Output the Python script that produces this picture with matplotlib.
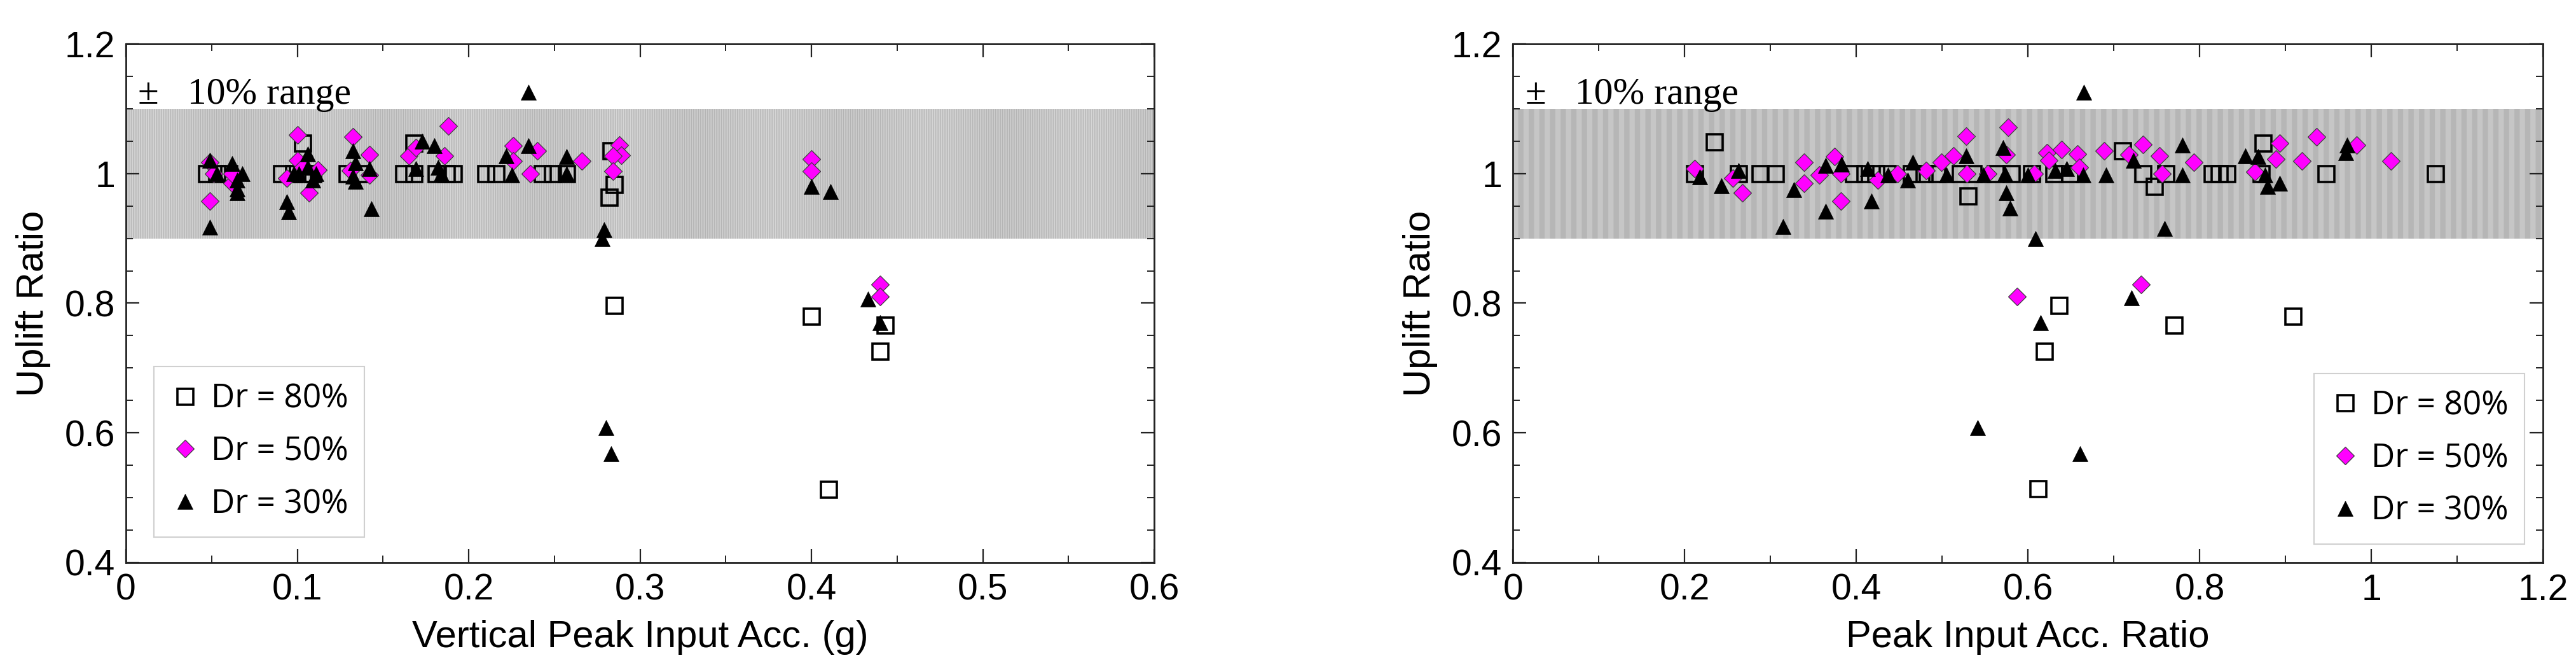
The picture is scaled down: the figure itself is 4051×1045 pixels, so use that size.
import matplotlib
matplotlib.use("Agg")
import matplotlib.pyplot as plt
from matplotlib.ticker import MultipleLocator
from matplotlib.patches import Rectangle

# ---------------- data ----------------
labels = ["Dr = 80%", "Dr = 50%", "Dr = 30%"]

# Left panel: vertical peak input acc. (g)
L80_x = [0.047, 0.053, 0.060, 0.091, 0.098, 0.103, 0.109, 0.103, 0.129, 0.136, 0.162, 0.168, 0.168,
         0.181, 0.187, 0.191, 0.210, 0.216, 0.243, 0.249, 0.257, 0.283, 0.285, 0.282, 0.285, 0.400,
         0.440, 0.443, 0.410]
L80_y = [1.0, 1.0, 1.0, 1.0, 1.0, 1.0, 1.0, 1.047, 1.0, 1.0, 1.0, 1.0, 1.047,
         1.0, 1.0, 1.0, 1.0, 1.0, 1.0, 1.0, 1.0, 1.035, 0.983, 0.963, 0.797, 0.780,
         0.726, 0.766, 0.513]

L50_x = [0.049, 0.049, 0.062, 0.062, 0.051, 0.100, 0.100, 0.094, 0.107, 0.112, 0.103,
         0.1325, 0.142, 0.142, 0.131, 0.165, 0.169, 0.188, 0.186, 0.226, 0.226, 0.236, 0.240,
         0.266, 0.288, 0.289, 0.284, 0.284, 0.400, 0.400, 0.440, 0.440]
L50_y = [1.017, 0.958, 0.985, 1.0, 1.0, 1.060, 1.020, 0.993, 0.970, 1.006, 1.010,
         1.057, 1.029, 0.998, 1.005, 1.027, 1.040, 1.073, 1.027, 1.043, 1.019, 1.0, 1.035,
         1.019, 1.044, 1.028, 1.027, 1.004, 1.022, 1.004, 0.829, 0.810]

L30_x = [0.049, 0.049, 0.062, 0.065, 0.065, 0.065, 0.053, 0.068,
         0.094, 0.095, 0.106, 0.106, 0.109, 0.111, 0.101, 0.098,
         0.1325, 0.134, 0.134, 0.142, 0.143, 0.1325,
         0.173, 0.180, 0.169, 0.182, 0.184,
         0.222, 0.225, 0.235, 0.235, 0.257, 0.257, 0.279, 0.278,
         0.400, 0.411, 0.433, 0.440, 0.280, 0.283]
L30_y = [1.020, 0.917, 1.015, 0.990, 0.976, 0.970, 1.0, 1.0,
         0.957, 0.941, 1.030, 1.010, 0.990, 1.0, 1.0, 1.0,
         1.035, 0.988, 1.016, 1.008, 0.946, 0.996,
         1.050, 1.043, 1.008, 1.010, 1.0,
         1.027, 0.998, 1.043, 1.125, 1.026, 1.0, 0.913, 0.900,
         0.980, 0.972, 0.806, 0.770, 0.608, 0.568]

# Right panel: peak input acc. ratio
R80_x = [0.212, 0.235, 0.263, 0.288, 0.306, 0.397, 0.410, 0.423, 0.436, 0.464, 0.479, 0.494,
         0.521, 0.536, 0.562, 0.581, 0.604, 0.630, 0.649, 0.530, 0.710, 0.734, 0.747, 0.761,
         0.815, 0.823, 0.832, 0.874, 0.872, 0.947, 1.075, 0.636, 0.619, 0.770, 0.909, 0.612]
R80_y = [1.0, 1.049, 1.0, 1.0, 1.0, 1.0, 1.0, 1.0, 1.0, 1.0, 1.0, 1.0,
         1.0, 1.0, 1.0, 1.0, 1.0, 1.0, 1.0, 0.965, 1.035, 1.0, 0.980, 1.0,
         1.0, 1.0, 1.0, 1.047, 1.0, 1.0, 1.0, 0.797, 0.726, 0.766, 0.780, 0.514]

R50_x = [0.212, 0.256, 0.267, 0.339, 0.339, 0.357, 0.375, 0.382, 0.382, 0.425, 0.448, 0.481,
         0.499, 0.513, 0.528, 0.529, 0.553, 0.577, 0.575, 0.607, 0.622, 0.624, 0.639, 0.658,
         0.660, 0.689, 0.718, 0.734, 0.753, 0.756, 0.793, 0.864, 0.889, 0.893, 0.919, 0.936,
         0.983, 1.023, 0.587, 0.732]
R50_y = [1.008, 0.993, 0.970, 1.017, 0.985, 0.998, 1.026, 1.0, 0.958, 0.990, 1.0, 1.005,
         1.017, 1.027, 1.058, 1.0, 1.0, 1.071, 1.029, 1.0, 1.032, 1.020, 1.037, 1.030,
         1.010, 1.035, 1.029, 1.045, 1.027, 1.0, 1.017, 1.003, 1.022, 1.047, 1.019, 1.057,
         1.044, 1.019, 0.810, 0.829]

R30_x = [0.218, 0.243, 0.263, 0.315, 0.327, 0.364, 0.364, 0.383, 0.413, 0.418, 0.437, 0.460,
         0.466, 0.505, 0.528, 0.548, 0.571, 0.575, 0.579, 0.573, 0.600, 0.609, 0.632, 0.645,
         0.664, 0.665, 0.691, 0.723, 0.759, 0.780, 0.780, 0.853, 0.868, 0.876, 0.879, 0.893,
         0.972, 0.970, 0.615, 0.721, 0.5415, 0.661]
R30_y = [0.995, 0.981, 1.005, 0.918, 0.975, 1.012, 0.942, 1.014, 1.008, 0.958, 0.998, 0.990,
         1.017, 0.998, 1.027, 0.998, 1.040, 0.970, 0.947, 1.0, 0.998, 0.900, 1.005, 1.008,
         0.998, 1.125, 0.998, 1.020, 0.915, 1.044, 0.998, 1.027, 1.026, 0.998, 0.980, 0.985,
         1.044, 1.032, 0.770, 0.808, 0.608, 0.568]

band_lo, band_hi = 0.9, 1.1
band_text = "±   10% range"
xlabels = ["Vertical Peak Input Acc. (g)", "Peak Input Acc. Ratio"]
ylabel = "Uplift Ratio"

# ---------------- style ----------------
SANS = ["Liberation Sans", "DejaVu Sans"]
fig = plt.figure(figsize=(40.51, 10.45), dpi=100)
axL = fig.add_axes([0.0489, 0.1541, 0.3992, 0.7799])
axR = fig.add_axes([0.5873, 0.1541, 0.3999, 0.7799])

sq_kw = dict(marker='s', ms=18, mfc='none', mec='black', mew=2.6, ls='none')
di_kw = dict(marker='D', ms=14, mfc='#ff00ff', mec='#404040', mew=0.9, ls='none')
tr_kw = dict(marker='^', ms=17, mfc='black', mec='black', mew=0.5, ls='none')


def fmt(v, p):
    return "%g" % round(v, 3)


def setup(ax, xmax, xmajor, xminor, xlabel, hatch, fc, hc, hlw):
    ax.set_xlim(0, xmax)
    ax.set_ylim(0.4, 1.2)
    band = Rectangle((0, band_lo), xmax, band_hi - band_lo, facecolor=fc,
                     edgecolor=hc, hatch=hatch, linewidth=0, zorder=0)
    if hasattr(band, "set_hatch_linewidth"):
        band.set_hatch_linewidth(hlw)
    ax.add_patch(band)
    ax.xaxis.set_major_locator(MultipleLocator(xmajor))
    ax.xaxis.set_minor_locator(MultipleLocator(xminor))
    ax.yaxis.set_major_locator(MultipleLocator(0.2))
    ax.yaxis.set_minor_locator(MultipleLocator(0.05))
    ax.xaxis.set_major_formatter(plt.FuncFormatter(fmt))
    ax.yaxis.set_major_formatter(plt.FuncFormatter(fmt))
    ax.tick_params(which='both', direction='in', top=True, right=True, color='#222222')
    ax.tick_params(which='major', length=15, width=1.6, pad=12, labelsize=41)
    ax.tick_params(which='minor', length=8, width=1.4)
    for lab in ax.get_xticklabels() + ax.get_yticklabels():
        lab.set_family(SANS)
    for s in ax.spines.values():
        s.set_linewidth(2.0)
        s.set_color('#222222')
    ax.set_xlabel(xlabel, fontsize=43, family=SANS, labelpad=14)
    ax.set_ylabel(ylabel, fontsize=43, family=SANS, labelpad=16)
    ax.text(0.012, 1.108, band_text, transform=ax.get_yaxis_transform(),
            fontsize=43, family=["Liberation Serif", "DejaVu Serif"], va='baseline', ha='left')


setup(axL, 0.6, 0.1, 0.05, xlabels[0], '||||||', '#d6d6d6', '#b4b4b4', 1.0)
setup(axR, 1.2, 0.2, 0.1, xlabels[1], '|', '#c6c6c6', '#b6b6b6', 6.0)

axL.plot(L80_x, L80_y, label=labels[0], zorder=3, **sq_kw)
axL.plot(L50_x, L50_y, label=labels[1], zorder=4, **di_kw)
axL.plot(L30_x, L30_y, label=labels[2], zorder=5, **tr_kw)
axR.plot(R80_x, R80_y, label=labels[0], zorder=3, **sq_kw)
axR.plot(R50_x, R50_y, label=labels[1], zorder=4, **di_kw)
axR.plot(R30_x, R30_y, label=labels[2], zorder=5, **tr_kw)

leg_kw = dict(prop={'family': ['Open Sans', 'DejaVu Sans'], 'size': 37},
              fancybox=False, framealpha=1, edgecolor='#d0d0d0', borderpad=0.5,
              handlelength=0.9, handletextpad=0.35, labelspacing=0.62, borderaxespad=0)
lg = axL.legend(loc='lower left', bbox_to_anchor=(0.027, 0.049), **leg_kw)
lg.get_frame().set_linewidth(1.5)
lg2 = axR.legend(loc='lower right', bbox_to_anchor=(0.982, 0.036), **leg_kw)
lg2.get_frame().set_linewidth(1.5)

fig.savefig("out.png", dpi=100)
